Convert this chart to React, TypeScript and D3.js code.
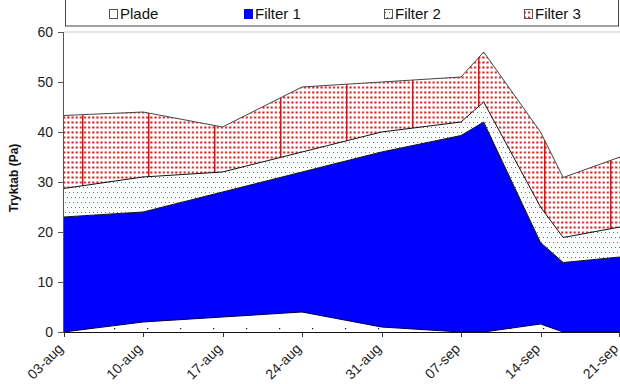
import { useEffect, useRef } from 'react';
import * as d3 from 'd3';

// measuring dates (year not shown on the chart)
const dates = ['2005-08-03', '2005-08-10', '2005-08-17', '2005-08-24', '2005-08-31', '2005-09-07', '2005-09-09', '2005-09-14', '2005-09-16', '2005-09-21'];

const plade = [0, 2, 3, 4, 1, 0, 0, 1.6, 0, 0];
const filter1 = [23, 22, 25, 28, 35, 39.3, 42, 16.3, 13.9, 15];
const filter2 = [5.7, 7, 4, 4, 4, 2.7, 4, 7.1, 5, 6];
const filter3 = [14.6, 13, 9, 13, 10, 9, 10, 15, 12, 14];

const seriesNames = ['Plade', 'Filter 1', 'Filter 2', 'Filter 3'];
const tickDates = ['2005-08-03', '2005-08-10', '2005-08-17', '2005-08-24', '2005-08-31', '2005-09-07', '2005-09-14', '2005-09-21'];
const tickLabels = ['03-aug', '10-aug', '17-aug', '24-aug', '31-aug', '07-sep', '14-sep', '21-sep'];
const yTicks = [0, 10, 20, 30, 40, 50, 60];

const App = () => {
  const svgRef = useRef(null);

  useEffect(() => {
    const width = 620;
    const height = 384;
    const font = 'Arial, "Liberation Sans", sans-serif';

    const svg = d3.select(svgRef.current);
    svg.selectAll('*').remove();
    svg.attr('width', width).attr('height', height);

    const parse = d3.timeParse('%Y-%m-%d');
    const rows = dates.map((d, i) => ({
      date: parse(d),
      Plade: plade[i],
      'Filter 1': filter1[i],
      'Filter 2': filter2[i],
      'Filter 3': filter3[i],
    }));

    const xScale = d3
      .scaleTime()
      .domain([parse(tickDates[0]), parse(tickDates[tickDates.length - 1])])
      .range([63.5, 620]);

    const yScale = d3.scaleLinear().domain([0, 60]).range([332, 32]);

    // patterns
    const defs = svg.append('defs');

    const pPlade = defs
      .append('pattern')
      .attr('id', 'pat-plade')
      .attr('patternUnits', 'userSpaceOnUse')
      .attr('x', 15)
      .attr('y', 8)
      .attr('width', 33)
      .attr('height', 16);
    pPlade.append('rect').attr('width', 33).attr('height', 16).attr('fill', 'white');
    pPlade.append('rect').attr('x', 0).attr('y', 0).attr('width', 1.2).attr('height', 1.2).attr('fill', '#111');

    const pF2 = defs
      .append('pattern')
      .attr('id', 'pat-f2')
      .attr('patternUnits', 'userSpaceOnUse')
      .attr('width', 8)
      .attr('height', 10);
    pF2.append('rect').attr('width', 8).attr('height', 10).attr('fill', 'white');
    pF2.append('rect').attr('x', 1).attr('y', 2).attr('width', 1).attr('height', 1).attr('fill', '#4f8a6c');
    pF2.append('rect').attr('x', 5).attr('y', 2).attr('width', 1).attr('height', 1).attr('fill', '#4f8a6c');
    pF2.append('rect').attr('x', 3).attr('y', 7).attr('width', 1).attr('height', 1).attr('fill', '#4f8a6c');
    pF2.append('rect').attr('x', 7).attr('y', 7).attr('width', 1).attr('height', 1).attr('fill', '#4f8a6c');

    const pF3 = defs
      .append('pattern')
      .attr('id', 'pat-f3')
      .attr('patternUnits', 'userSpaceOnUse')
      .attr('width', 4.15)
      .attr('height', 5);
    pF3.append('rect').attr('width', 4.15).attr('height', 5).attr('fill', 'white');
    pF3.append('rect').attr('x', 1).attr('y', 1.5).attr('width', 2).attr('height', 2).attr('fill', '#e01010');

    const pF3Lines = defs
      .append('pattern')
      .attr('id', 'pat-f3-lines')
      .attr('patternUnits', 'userSpaceOnUse')
      .attr('x', 16)
      .attr('width', 66)
      .attr('height', 10);
    pF3Lines.append('rect').attr('x', 0).attr('y', 0).attr('width', 1.5).attr('height', 10).attr('fill', '#e01010');

    const fills = ['url(#pat-plade)', '#0000ff', 'url(#pat-f2)', 'url(#pat-f3)'];

    const stacked = d3.stack().keys(seriesNames)(rows);

    const area = d3
      .area()
      .x((d) => xScale(d.data.date))
      .y0((d) => yScale(d[0]))
      .y1((d) => yScale(d[1]))
      .curve(d3.curveLinear);

    const topLine = d3
      .line()
      .x((d) => xScale(d.data.date))
      .y((d) => yScale(d[1]));

    // top border of the plot area
    svg
      .append('line')
      .attr('x1', 63.5)
      .attr('x2', 620)
      .attr('y1', yScale(60))
      .attr('y2', yScale(60))
      .attr('stroke', '#c8c8c8')
      .attr('stroke-width', 1);

    const chartArea = svg.append('g');

    stacked.forEach((s, i) => {
      chartArea.append('path').attr('d', area(s)).attr('fill', fills[i]).attr('stroke', 'none');
      if (i === 3) {
        chartArea.append('path').attr('d', area(s)).attr('fill', 'url(#pat-f3-lines)').attr('stroke', 'none');
      }
    });
    stacked.forEach((s, i) => {
      chartArea
        .append('path')
        .attr('d', topLine(s))
        .attr('fill', 'none')
        .attr('stroke', i === 0 ? '#000040' : i === 3 ? '#444' : '#111')
        .attr('stroke-width', 1);
    });

    // y axis
    const yAxisG = svg.append('g').style('font-family', font);
    yAxisG
      .append('line')
      .attr('x1', 63.5)
      .attr('x2', 63.5)
      .attr('y1', yScale(60))
      .attr('y2', yScale(0))
      .attr('stroke', '#555');
    yTicks.forEach((t) => {
      yAxisG
        .append('line')
        .attr('x1', 58)
        .attr('x2', 63.5)
        .attr('y1', yScale(t) + 0.5)
        .attr('y2', yScale(t) + 0.5)
        .attr('stroke', '#555');
      yAxisG
        .append('text')
        .attr('x', 53)
        .attr('y', yScale(t))
        .attr('dy', '0.36em')
        .attr('text-anchor', 'end')
        .style('font-size', '14px')
        .attr('fill', '#222')
        .text(t);
    });

    // x axis
    const xAxisG = svg.append('g').style('font-family', font);
    xAxisG
      .append('line')
      .attr('x1', 63.5)
      .attr('x2', 620)
      .attr('y1', yScale(0) + 0.5)
      .attr('y2', yScale(0) + 0.5)
      .attr('stroke', '#111');
    tickDates.forEach((d, i) => {
      const x = Math.min(Math.round(xScale(parse(d))) + 0.5, 619.5);
      xAxisG
        .append('line')
        .attr('x1', x)
        .attr('x2', x)
        .attr('y1', yScale(0))
        .attr('y2', yScale(0) + 5)
        .attr('stroke', '#333');
      xAxisG
        .append('text')
        .attr('transform', `translate(${x - 4},${yScale(0) + 14}) rotate(-45)`)
        .attr('text-anchor', 'end')
        .attr('dy', '0.35em')
        .style('font-size', '14px')
        .attr('fill', '#222')
        .text(tickLabels[i]);
    });

    // y axis title
    svg
      .append('text')
      .attr('transform', `translate(14,178) rotate(-90)`)
      .attr('text-anchor', 'middle')
      .attr('dy', '0.35em')
      .style('font-family', font)
      .style('font-size', '12px')
      .style('font-weight', 'bold')
      .attr('fill', '#111')
      .text('Tryktab (Pa)');

    // legend
    const legend = svg.append('g').style('font-family', font);
    legend
      .append('rect')
      .attr('x', 65.5)
      .attr('y', -2)
      .attr('width', 553)
      .attr('height', 28)
      .attr('fill', 'white')
      .attr('stroke', '#444');
    const legendX = [109, 244, 384, 524];
    const swatchFills = ['white', '#0000ff', 'url(#pat-f2)', 'url(#pat-f3)'];
    seriesNames.forEach((name, i) => {
      legend
        .append('rect')
        .attr('x', legendX[i] + 0.5)
        .attr('y', 9.5)
        .attr('width', 8)
        .attr('height', 9)
        .attr('fill', swatchFills[i])
        .attr('stroke', i === 1 ? '#0000ff' : '#555');
      legend
        .append('text')
        .attr('x', legendX[i] + 11)
        .attr('y', 14)
        .attr('dy', '0.35em')
        .style('font-size', '15px')
        .attr('fill', '#111')
        .text(name);
    });
  }, []);

  return (
    <div>
      <svg ref={svgRef} style={{ position: 'absolute', left: 0, top: 0, display: 'block' }}></svg>
    </div>
  );
};

export default App;
